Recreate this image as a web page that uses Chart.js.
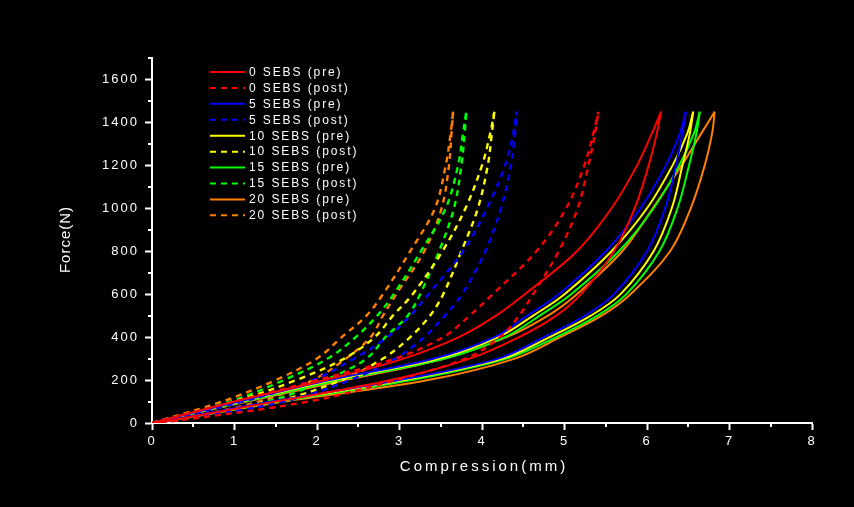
<!DOCTYPE html>
<html>
<head>
<meta charset="utf-8">
<script src="https://cdn.jsdelivr.net/npm/chart.js@4.4.1/dist/chart.umd.min.js"></script>
<style>
  html, body { margin: 0; padding: 0; background: #000; }
  #wrap { width: 854px; height: 507px; }
</style>
</head>
<body>
<div id="wrap"><canvas id="c" width="854" height="507"></canvas></div>
<script>
var forceLevels = [0, 100, 200, 300, 400, 500, 600, 800, 1000, 1200, 1350, 1450];

// pre: loading (upper branch) / unloading (lower branch)
var sebs0PreLoad    = [0, 1.00, 2.10, 3.05, 3.72, 4.17, 4.52, 5.15, 5.57, 5.88, 6.06, 6.17];
var sebs0PreUnload  = [0.05, 1.50, 2.90, 3.85, 4.45, 4.90, 5.20, 5.60, 5.85, 6.02, 6.12, 6.17];
var sebs5PreLoad    = [0, 1.05, 2.15, 3.42, 4.15, 4.55, 4.93, 5.50, 5.92, 6.23, 6.40, 6.47];
var sebs5PreUnload  = [0.05, 1.45, 3.00, 4.20, 4.75, 5.25, 5.60, 6.00, 6.22, 6.35, 6.43, 6.47];
var sebs10PreLoad   = [0, 1.08, 2.20, 3.48, 4.20, 4.62, 5.00, 5.57, 6.00, 6.31, 6.49, 6.56];
var sebs10PreUnload = [0.05, 1.50, 3.05, 4.25, 4.82, 5.32, 5.68, 6.08, 6.30, 6.43, 6.52, 6.56];
var sebs15PreLoad   = [0, 1.12, 2.28, 3.55, 4.28, 4.70, 5.08, 5.66, 6.08, 6.39, 6.57, 6.64];
var sebs15PreUnload = [0.05, 1.55, 3.15, 4.30, 4.90, 5.40, 5.75, 6.15, 6.37, 6.51, 6.60, 6.64];
var sebs20PreLoad   = [0, 1.15, 2.35, 3.55, 4.30, 4.80, 5.15, 5.70, 6.07, 6.42, 6.66, 6.82];
var sebs20PreUnload = [0.05, 1.60, 3.35, 4.40, 4.95, 5.45, 5.80, 6.28, 6.53, 6.70, 6.79, 6.82];

// post
var sebs0PostLoad    = [0, 1.00, 2.00, 2.95, 3.53, 3.85, 4.13, 4.66, 5.02, 5.24, 5.35, 5.41];
var sebs0PostUnload  = [0.10, 1.90, 2.95, 3.80, 4.22, 4.45, 4.62, 4.93, 5.16, 5.29, 5.37, 5.41];
var sebs5PostLoad    = [0, 1.10, 1.95, 2.45, 2.85, 3.13, 3.35, 3.77, 4.06, 4.28, 4.38, 4.42];
var sebs5PostUnload  = [0.10, 1.60, 2.40, 2.95, 3.30, 3.55, 3.76, 4.04, 4.23, 4.35, 4.40, 4.42];
var sebs10PostLoad   = [0, 1.00, 1.75, 2.33, 2.70, 2.92, 3.16, 3.52, 3.80, 4.00, 4.10, 4.15];
var sebs10PostUnload = [0.10, 1.50, 2.30, 2.80, 3.13, 3.37, 3.53, 3.75, 3.95, 4.07, 4.12, 4.15];
var sebs15PostLoad   = [0, 0.95, 1.60, 2.13, 2.47, 2.73, 2.93, 3.26, 3.56, 3.71, 3.77, 3.81];
var sebs15PostUnload = [0.10, 1.40, 2.10, 2.60, 2.83, 3.10, 3.25, 3.48, 3.66, 3.75, 3.79, 3.81];
var sebs20PostLoad   = [0, 0.85, 1.50, 2.00, 2.30, 2.60, 2.80, 3.13, 3.43, 3.56, 3.62, 3.65];
var sebs20PostUnload = [0.10, 1.30, 1.95, 2.35, 2.65, 2.80, 2.96, 3.30, 3.51, 3.60, 3.63, 3.65];

var seriesLabels = ['0 SEBS', '5 SEBS', '10 SEBS', '15 SEBS', '20 SEBS'];
var seriesColors = ['#ff0000', '#0000ff', '#ffff00', '#00ff00', '#ff8000'];
var preLoad    = [sebs0PreLoad, sebs5PreLoad, sebs10PreLoad, sebs15PreLoad, sebs20PreLoad];
var preUnload  = [sebs0PreUnload, sebs5PreUnload, sebs10PreUnload, sebs15PreUnload, sebs20PreUnload];
var postLoad   = [sebs0PostLoad, sebs5PostLoad, sebs10PostLoad, sebs15PostLoad, sebs20PostLoad];
var postUnload = [sebs0PostUnload, sebs5PostUnload, sebs10PostUnload, sebs15PostUnload, sebs20PostUnload];

var xTicksMinor = [0.5, 1.5, 2.5, 3.5, 4.5, 5.5, 6.5, 7.5];
var yTicksMinor = [100, 300, 500, 700, 900, 1100, 1300, 1500, 1700];

var DASH = [6, 5];

function pts(xs) {
    return xs.map(function (x, i) { return {x: x, y: forceLevels[i]}; });
}

function branch(label, color, xs, dashed, inLegend) {
    return {
        label: label,
        data: pts(xs),
        borderColor: color,
        backgroundColor: color,
        borderWidth: dashed ? 2.4 : 2,
        borderDash: dashed ? DASH : [],
        showLine: true,
        pointRadius: 0,
        fill: false,
        tension: 0.35,
        inLegend: inLegend
    };
}

var datasets = [];
seriesLabels.forEach(function (name, i) {
    datasets.push(branch(name + ' (pre)', seriesColors[i], preLoad[i], false, true));
    datasets.push(branch(name + ' (pre)', seriesColors[i], preUnload[i], false, false));
    datasets.push(branch(name + ' (post)', seriesColors[i], postLoad[i], true, true));
    datasets.push(branch(name + ' (post)', seriesColors[i], postUnload[i], true, false));
});

// extras: letter spaced ticks, minor ticks, axis titles and the inset legend
var extras = {
    id: 'extras',
    beforeDraw: function (chart) {
        var ctx = chart.ctx;
        ctx.save();
        ctx.fillStyle = '#000';
        ctx.fillRect(0, 0, chart.width, chart.height);
        ctx.restore();
        ctx.letterSpacing = '2px';
    },
    afterDraw: function (chart) {
        var ctx = chart.ctx;
        var xs = chart.scales.x, ys = chart.scales.y;
        var area = chart.chartArea;
        ctx.save();
        ctx.strokeStyle = '#fff';
        ctx.lineWidth = 2;
        ctx.beginPath();
        xTicksMinor.forEach(function (v) {
            var p = Math.round(xs.getPixelForValue(v));
            ctx.moveTo(p, area.bottom);
            ctx.lineTo(p, area.bottom + 4);
        });
        yTicksMinor.forEach(function (v) {
            var p = Math.round(ys.getPixelForValue(v));
            ctx.moveTo(area.left - 4, p);
            ctx.lineTo(area.left, p);
        });
        ctx.stroke();

        ctx.fillStyle = '#fff';
        ctx.font = '15px "Liberation Sans", Arial, sans-serif';
        ctx.textBaseline = 'middle';
        ctx.textAlign = 'center';
        ctx.letterSpacing = '3px';
        ctx.fillText('Compression(mm)', (area.left + area.right) / 2 + 2, 467);

        ctx.save();
        ctx.letterSpacing = '1px';
        ctx.translate(66, (area.top + area.bottom) / 2);
        ctx.rotate(-Math.PI / 2);
        ctx.fillText('Force(N)', 1, 0);
        ctx.restore();

        // legend
        ctx.font = '12px "Liberation Sans", Arial, sans-serif';
        ctx.letterSpacing = '1.9px';
        ctx.textAlign = 'left';
        var row = 0;
        chart.data.datasets.forEach(function (ds) {
            if (!ds.inLegend) return;
            var y = area.top + 14 + row * 15.93;
            ctx.strokeStyle = ds.borderColor;
            ctx.lineWidth = 2;
            ctx.setLineDash(ds.borderDash);
            ctx.beginPath();
            ctx.moveTo(area.left + 58, y);
            ctx.lineTo(area.left + 93, y);
            ctx.stroke();
            ctx.setLineDash([]);
            ctx.fillStyle = '#fff';
            ctx.fillText(ds.label, area.left + 97, y + 0.5);
            row++;
        });
        ctx.restore();
        ctx.letterSpacing = '0px';
    }
};

var tickFont = {family: '"Liberation Sans", Arial, sans-serif', size: 13};
var plainLabel = function (v) { return String(v); };

new Chart(document.getElementById('c'), {
    type: 'scatter',
    data: {datasets: datasets},
    options: {
        responsive: false,
        devicePixelRatio: 1,
        animation: false,
        events: [],
        layout: {padding: {left: 0, right: 42, top: 58, bottom: 0}},
        plugins: {
            legend: {display: false},
            tooltip: {enabled: false}
        },
        scales: {
            x: {
                type: 'linear',
                min: 0,
                max: 8,
                ticks: {stepSize: 1, color: '#fff', font: tickFont, padding: 4, includeBounds: false, callback: plainLabel},
                grid: {drawOnChartArea: false, drawTicks: true, tickLength: 7, tickColor: '#fff', tickWidth: 2},
                border: {color: '#fff', width: 2},
                afterFit: function (s) { s.height = 84; }
            },
            y: {
                type: 'linear',
                min: 0,
                max: 1700,
                ticks: {stepSize: 200, color: '#fff', font: tickFont, padding: 6, includeBounds: false, callback: plainLabel},
                grid: {drawOnChartArea: false, drawTicks: true, tickLength: 7, tickColor: '#fff', tickWidth: 2},
                border: {color: '#fff', width: 2},
                afterFit: function (s) { s.width = 152; }
            }
        }
    },
    plugins: [extras]
});
</script>
</body>
</html>
